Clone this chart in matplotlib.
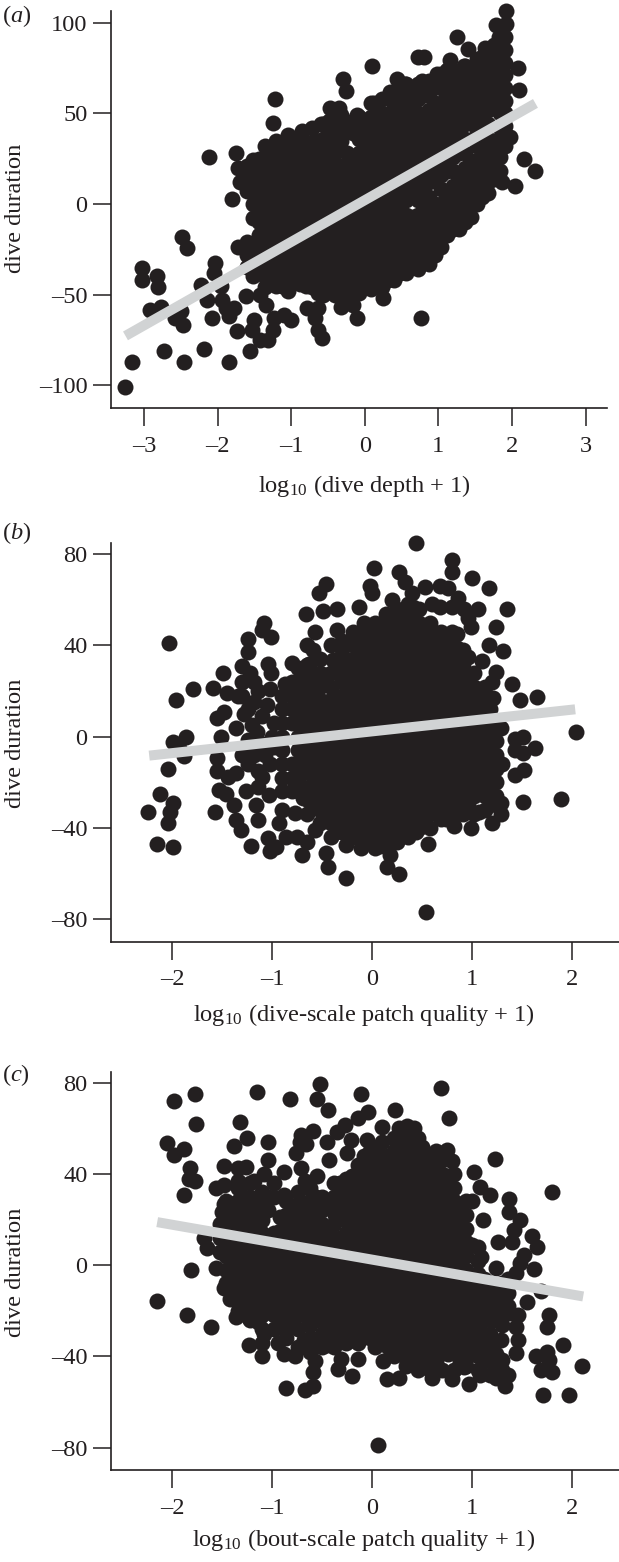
import matplotlib
matplotlib.use("Agg")
import matplotlib.pyplot as plt

plt.rcParams["font.family"] = ["Liberation Serif", "DejaVu Serif"]
plt.rcParams["mathtext.fontset"] = "custom"
plt.rcParams["mathtext.rm"] = "Liberation Serif"
plt.rcParams["mathtext.it"] = "Liberation Serif:italic"

INK = "#231f20"
GREY = "#d1d3d4"
W, H = 619, 1562

# ---- panel a: points read one by one, then the dense core column by column
a_pts = [
    (-3.26, -101), (-3.16, -87), (-2.73, -81), (-2.45, -87), (-2.19, -80), (-1.85, -87), (-1.56, -81),
    (-2.48, -18.4), (-2.42, -24.5), (-3.02, -35.5), (-3.02, -42), (-2.82, -40), (-2.81, -45.6),
    (-2.92, -58.5), (-2.77, -56.6), (-2.58, -63), (-2.47, -66.7), (-2.5, -59),
    (-2.12, 26), (-1.22, 58), (-1.25, 44.5), (0.1, 76), (-0.29, 69), (-0.26, 62.5), (0.76, -63),
    (0.25, -52), (-0.11, -63), (-0.58, -74), (-0.64, -69.5),
    (2.31, 18), (2.17, 25), (2.04, 10), (2.1, 63), (2.08, 75), (1.97, 37), (1.87, 12),
    (1.92, 106.6), (1.92, 99.6), (1.78, 99), (1.83, 92), (1.25, 92), (1.41, 85.5), (1.63, 86),
    (0.72, 81), (0.8, 81), (1.16, 79.5), (0.44, 69),
    (-1.8, 3), (-1.72, -23.5), (-2.03, -32.7), (-2.23, -44.7), (-2.14, -53), (-2.08, -62.7),
    (-1.85, -62), (-1.74, -70), (-1.5, -64), (-1.53, -69.5), (-1.42, -75), (-1.31, -75), (-1.25, -69.5),
    (-1.1, -61), (-1.0, -64), (-1.23, -63), (-1.34, -56), (-1.61, -51), (-1.42, -50), (-1.94, -53),
    (-1.88, -57.5), (-1.77, -57.5), (-0.78, -57.5), (-0.64, -57.5), (-0.67, -63), (-0.32, -56.6),
    (-0.16, -55.7), (-1.75, 28), (-1.72, 20), (-1.7, 12), (-2.05, -38), (-1.95, -45),
    (-0.85, 40), (-0.6, 44), (-0.47, 53), (-0.35, 53), (-0.1, 49), (0.12, 56), (0.35, 62), (0.55, 66),
    (0.78, 68), (0.98, 72), (1.15, 74), (1.35, 76),
]
a_core = [
    (-1.6, [21, 14, 7, -21, -28, -35]),
    (-1.44, [25, 18, 11, 4, -3, -10, -17, -24, -31, -38]),
    (-1.28, [28, 21, 14, 7, 0, -7, -14, -21, -28, -35, -42]),
    (-1.12, [32, 25, 18, 11, 4, -3, -10, -17, -24, -31, -38, -45]),
    (-0.96, [35, 28, 21, 14, 7, 0, -7, -14, -21, -28, -35, -42]),
    (-0.8, [32, 25, 18, 11, 4, -3, -10, -17, -24, -31, -38, -45]),
    (-0.64, [35, 28, 21, 14, 7, 0, -7, -14, -21, -28, -35, -42, -49]),
    (-0.48, [46, 39, 32, 25, 18, 11, 4, -3, -10, -17, -24, -31, -38, -45]),
    (-0.32, [49, 42, 35, 21, 14, 7, 0, -7, -14, -21, -28, -35, -42, -49]),
    (-0.16, [46, 39, 25, 18, 11, 4, -3, -10, -17, -24, -31, -38, -45]),
    (0.0, [42, 35, 28, 21, 14, 7, 0, -7, -14, -21, -28, -35, -42]),
    (0.16, [53, 46, 39, 32, 25, 18, 11, 4, -3, -10, -17, -24, -31, -38, -45]),
    (0.32, [49, 42, 35, 28, 21, 14, 7, 0, -7, -14, -21, -28, -35, -42]),
    (0.48, [60, 53, 46, 39, 32, 25, 18, 11, 4, -3, -10, -17, -24, -31, -38]),
    (0.64, [63, 56, 49, 42, 35, 28, 21, 14, 7, -7, -14, -21, -28, -35]),
    (0.8, [60, 46, 39, 32, 25, 18, 11, 4, -3, -10, -17, -24, -31]),
    (0.96, [67, 56, 49, 42, 35, 28, 21, 14, 0, -7, -14, -21, -28]),
    (1.12, [74, 67, 60, 53, 46, 39, 32, 25, 18, 4, -3, -10, -17]),
    (1.28, [70, 63, 56, 49, 42, 35, 28, 14, 7, 0, -7, -14]),
    (1.44, [74, 67, 60, 53, 46, 21, 14, 7, 0, -7]),
    (1.6, [81, 74, 67, 60, 53, 46, 32, 25, 18, 11, 4]),
    (1.76, [88, 81, 74, 67, 60, 53, 35, 28, 21, 14]),
    (1.9, [92, 85, 78, 71, 64, 57, 50, 43, 32]),
    (-1.52, [24, 16, 8, 0, -8, -24, -32, -40]),
    (-1.36, [32, 24, 16, 8, 0, -8, -16, -24, -32, -40, -46]),
    (-1.2, [35, 27, 19, 11, 3, -5, -13, -21, -29, -37, -45]),
    (-1.04, [38, 30, 22, 14, 6, -2, -10, -18, -26, -34, -42, -48]),
    (-0.88, [36, 28, 20, 12, 4, -4, -12, -20, -28, -36, -44]),
    (-0.72, [42, 34, 26, 18, 10, 2, -6, -14, -22, -30, -38, -46]),
    (-0.56, [44, 36, 28, 20, 12, 4, -4, -12, -20, -28, -36, -44, -50]),
    (-0.4, [52, 44, 36, 28, 20, 12, 4, -4, -12, -20, -28, -36, -44, -50]),
    (-0.24, [44, 28, 20, 12, 4, -4, -12, -20, -28, -36, -44, -50]),
    (-0.08, [48, 36, 28, 20, 12, 4, -4, -12, -20, -28, -36, -44, -49]),
    (0.08, [56, 48, 40, 32, 24, 16, 8, 0, -8, -16, -24, -32, -40, -47]),
    (0.24, [58, 50, 42, 34, 26, 18, 10, 2, -6, -14, -22, -30, -38, -46]),
    (0.4, [62, 54, 46, 38, 30, 22, 14, 6, -2, -10, -18, -26, -34, -42]),
    (0.56, [66, 58, 50, 42, 34, 26, 18, 10, 2, -6, -14, -22, -30, -38]),
    (0.72, [66, 58, 50, 42, 34, 26, 18, 10, 2, -6, -14, -22, -30, -36]),
    (0.88, [68, 60, 52, 44, 36, 28, 20, 12, 4, -4, -12, -20, -28, -33]),
    (1.04, [72, 64, 56, 48, 40, 32, 24, 16, 8, 0, -8, -16, -24]),
    (1.2, [74, 66, 58, 50, 42, 34, 26, 18, 10, 2, -6, -14]),
    (1.36, [76, 68, 60, 52, 44, 36, 28, 20, 12, 4, -4, -10]),
    (1.52, [80, 72, 64, 56, 48, 40, 32, 24, 16, 8, 0]),
    (1.68, [84, 76, 68, 60, 52, 44, 36, 28, 20, 12, 6]),
    (1.84, [90, 82, 74, 66, 58, 50, 42, 34, 26, 18]),
]
a_line_x = [-3.25, 2.32]
a_line_y = [-72.8, 55.5]

# ---- panel b
b_pts = [
    (0.44, 85), (0.54, -77), (2.04, 2), (1.89, -27.5), (-2.03, 41), (-1.79, 21), (-1.96, 16),
    (-2.24, -33), (-2.12, -25), (-2.15, -47), (-1.99, -48.5), (-2.04, -38), (-2.02, -33), (-1.99, -29),
    (-2.04, -14), (-1.99, -2.5), (-1.86, 0), (-1.88, -8.5), (-1.93, -5),
    (-1.57, -33), (-1.59, 21.5), (-1.49, 28), (-1.51, 0), (-1.48, 11), (-1.55, 8), (-1.36, 4), (-1.45, 19), (-1.34, 18),
    (-1.55, -9.5), (-1.55, -15), (-1.44, -17.5), (-1.36, -16), (-1.53, -23.5), (-1.46, -25), (-1.38, -30),
    (-1.36, -36.5), (-1.31, -41), (-1.26, -24), (-1.21, -48), (-1.16, -30), (-1.14, -36.5), (-1.04, -44.5),
    (-1.02, -50), (-0.96, -48.5), (-1.03, -25.6), (-0.93, -38), (-0.9, -32), (-0.86, -44), (-0.75, -44),
    (-0.65, -46), (-0.7, -52), (-0.77, -33.6), (-0.65, -34), (-0.57, -41),
    (-0.46, -51), (-0.44, -57), (-0.26, -62), (0.15, -57), (0.27, -60), (0.18, -52), (-0.11, -49),
    (-0.26, -47.5), (0.03, -49), (0.56, -47), (0.44, -42), (0.82, -39), (0.99, -40), (1.2, -38),
    (1.29, -34), (1.29, -29), (1.51, -28.5), (1.43, -17), (1.52, -14.6), (1.3, -12), (1.43, -6), (1.51, -7),
    (1.63, -5), (1.51, 0), (1.43, -1), (1.29, 4),
    (0.02, 74), (0.27, 72), (0.33, 68), (0.53, 65.5), (-0.02, 66), (0, 63), (-0.46, 67), (-0.53, 63),
    (-0.66, 54), (-0.49, 55), (-0.35, 56), (-0.13, 57), (0.8, 77.5), (0.8, 72), (1, 69.5), (1.17, 65),
    (1.35, 56), (1.24, 48), (1.06, 56), (0.86, 61), (0.76, 65), (0.68, 66), (0.99, 48), (1.17, 40),
    (1.31, 37.5), (1.1, 33), (1.24, 28.5), (1.4, 23), (1.2, 24), (1.21, 17), (1.48, 16), (1.65, 17.5),
    (0.96, 35), (0.6, 58), (0.68, 57), (0.8, 57), (0.92, 56), (0.96, 52), (0.2, 60), (0.4, 63),
    (-1.08, 50), (-1.1, 47), (-1.01, 43.5), (-1.24, 43), (-1.24, 37), (-1.3, 31), (-1.22, 28), (-1.04, 32),
    (-1.01, 28), (-0.8, 32.5), (-0.65, 31.5), (-0.57, 46), (-0.59, 38), (-0.65, 40), (-0.35, 47), (-0.31, 39.5),
    (-0.39, 33.6), (-0.87, 23), (-1.02, 21), (-1.14, 20), (-1.24, 12), (-1.1, 9), (-0.98, 6), (-0.79, 13),
    (-0.75, 23), (-0.59, 25),
    (-1.24, -12), (-1.14, -15), (-1.02, -12), (-1.22, -6), (-1.1, -17.5), (-1.14, -22), (-1.24, -1.5),
    (-1.1, -3), (-0.98, -4.4), (-1.2, 5), (-1.05, 14), (-1.18, 24), (-1.3, 24),
    (-1.28, 10), (-1.15, 2), (-1.3, -8), (-1.18, -8), (-1.0, 0), (-1.07, -8), (-1.18, 15), (-1.3, 18),
]
b_core = [
    (-0.8, [24, 18, 12, 6, -12, -18, -24]),
    (-0.69, [27, 21, 15, 9, 3, -3, -9, -15, -27]),
    (-0.58, [24, 18, 12, 6, 0, -6, -12, -18, -24, -30]),
    (-0.47, [27, 15, 9, 3, -3, -9, -15, -21, -27, -33]),
    (-0.36, [30, 12, 6, 0, -6, -12, -18, -24, -30, -36, -42]),
    (-0.25, [33, 27, 21, 15, 9, 3, -3, -9, -15, -21, -27, -33, -39]),
    (-0.14, [42, 36, 30, 24, 18, 12, 6, 0, -6, -12, -18, -24, -30, -36, -42]),
    (-0.03, [45, 39, 33, 27, 21, 15, 9, 3, -3, -9, -15, -21, -27, -33, -39, -45]),
    (0.08, [48, 42, 36, 30, 24, 18, 12, 6, 0, -6, -12, -18, -24, -30, -36, -42, -48]),
    (0.19, [51, 45, 39, 33, 27, 21, 15, 9, 3, -3, -9, -15, -21, -27, -33, -39, -45]),
    (0.3, [54, 48, 42, 36, 30, 24, 18, 12, 6, 0, -6, -12, -18, -24, -30, -36, -42]),
    (0.41, [57, 51, 45, 39, 33, 27, 21, 15, 9, 3, -3, -9, -15, -21, -27, -33, -39]),
    (0.52, [48, 42, 36, 30, 24, 18, 12, 6, 0, -6, -12, -18, -24, -30, -36]),
    (0.63, [45, 39, 33, 27, 21, 15, 9, 3, -3, -9, -15, -21, -27, -33]),
    (0.74, [42, 36, 30, 24, 18, 12, 6, 0, -6, -12, -18, -24, -30, -36]),
    (0.85, [45, 39, 33, 27, 21, 15, 9, 3, -3, -9, -15, -21, -27, -33]),
    (0.96, [24, 18, 12, 6, 0, -6, -12, -18, -24, -30]),
    (1.07, [21, 15, 9, 3, -3, -9, -15, -21, -33]),
    (1.18, [12, 6, 0, -6, -12, -18, -24, -30]),
    (-0.9, [18, 12, 6, 0, -6, -12, -18, -24]),
    (-0.74, [30, 24, 18, 12, 6, 0, -6, -12, -18, -24]),
    (-0.63, [32, 26, 20, 14, 8, 2, -4, -10, -16, -22, -28]),
    (-0.52, [34, 28, 22, 16, 10, 4, -2, -8, -14, -20, -26, -32, -38]),
    (-0.41, [40, 28, 22, 16, 10, 4, -2, -8, -14, -20, -26, -32, -38, -44]),
    (-0.3, [42, 36, 30, 24, 18, 12, 6, 0, -6, -12, -18, -24, -30, -36, -42]),
    (-0.19, [46, 40, 34, 28, 22, 16, 10, 4, -2, -8, -14, -20, -26, -32, -38, -44]),
    (-0.08, [50, 44, 38, 32, 26, 20, 14, 8, 2, -4, -10, -16, -22, -28, -34, -40, -46]),
    (0.03, [50, 44, 38, 32, 26, 20, 14, 8, 2, -4, -10, -16, -22, -28, -34, -40, -46]),
    (0.14, [54, 48, 42, 36, 30, 24, 18, 12, 6, 0, -6, -12, -18, -24, -30, -36, -42, -48]),
    (0.25, [56, 50, 44, 38, 32, 26, 20, 14, 8, 2, -4, -10, -16, -22, -28, -34, -40, -46]),
    (0.36, [58, 52, 46, 40, 34, 28, 22, 16, 10, 4, -2, -8, -14, -20, -26, -32, -38, -44]),
    (0.47, [56, 50, 44, 38, 32, 26, 20, 14, 8, 2, -4, -10, -16, -22, -28, -34, -40]),
    (0.58, [50, 44, 38, 32, 26, 20, 14, 8, 2, -4, -10, -16, -22, -28, -34, -40]),
    (0.69, [46, 40, 34, 28, 22, 16, 10, 4, -2, -8, -14, -20, -26, -32, -36]),
    (0.8, [46, 40, 34, 28, 22, 16, 10, 4, -2, -8, -14, -20, -26, -32, -36]),
    (0.91, [38, 32, 26, 20, 14, 8, 2, -4, -10, -16, -22, -28, -34]),
    (1.02, [28, 22, 16, 10, 4, -2, -8, -14, -20, -26, -34]),
    (1.13, [22, 16, 10, 4, -2, -8, -14, -20, -26, -32]),
    (1.24, [4, -2, -8, -14, -20, -26]),
]
b_line_x = [-2.23, 2.03]
b_line_y = [-8.3, 12]

# ---- panel c
c_pts = [
    (0.06, -79), (-2.15, -15.5), (-1.85, -22), (-1.61, -27), (-1.81, -2.3), (1.71, -57), (1.97, -57),
    (2.1, -44), (1.91, -35), (1.8, 32), (1.23, 46.6), (0.69, 77.6), (0.77, 64.5), (0.23, 68), (-0.11, 75),
    (-0.04, 67), (-0.14, 64.5), (-0.52, 79.5), (-0.55, 73), (-0.44, 68), (-0.82, 73), (-1.15, 76),
    (-1.77, 75), (-1.98, 72), (-1.76, 62), (-1.32, 63), (-1.25, 56), (-1.38, 52.5), (-2.05, 53.5),
    (-1.88, 51), (-1.98, 48.5), (-1.82, 42.5), (-1.83, 38), (-1.77, 37), (-1.88, 31), (-1.04, 54),
    (1.02, 41), (1.08, 34.5), (1.18, 31), (1, 28), (1.11, 20), (1.37, 29), (1.37, 23.5), (1.48, 20),
    (1.42, 15.5), (1.4, 10), (1.26, 10), (1.6, 13), (1.65, 8), (1.52, 4.5), (1.09, 3.5), (0.93, 5),
    (1.24, -1.3), (1.48, 1), (1.62, -1.6), (1.44, -3.5), (1.55, -16), (1.69, -11.5), (1.77, -22), (1.75, -27),
    (1.64, -40), (1.75, -38), (1.77, -41.5), (1.8, -47), (1.69, -46), (1.33, -53), (0.97, -52), (0.8, -50),
    (0.6, -49.6), (1.24, -49.6), (1.36, -48), (1.44, -38.6), (1.46, -33), (1.44, -27), (1.46, -22), (1.38, -21),
    (1.29, -33), (1.2, -24), (1.08, -48), (0.92, -44.5), (1.16, -40), (1.3, -41.5),
    (-0.86, -54), (-0.67, -54.7), (-0.59, -53), (-0.59, -47), (-0.57, -42), (-0.34, -45.6), (-0.2, -48.4),
    (-0.14, -41), (-0.31, -41), (0.15, -50), (0.27, -49.6), (0.11, -42), (0.03, -35.7), (0.46, -45),
    (0.35, -43.7), (-0.77, -40), (-0.88, -39), (-1.1, -40), (-1.23, -35), (-1.08, -30), (-0.94, -34),
    (-0.45, -35), (-0.59, -34), (-1.36, -22.5), (-1.23, -23), (-1.42, -15), (-1.48, -10), (-1.56, -1.3),
    (-1.65, 7.5), (-1.68, 12), (-1.34, -15), (-1.14, -18), (-1.14, -25), (-0.83, -26), (-0.63, -25.4),
    (-0.27, -30), (-0.15, -30),
    (-1.48, 43.6), (-1.34, 42.5), (-1.26, 43), (-1.04, 46), (-1.08, 40), (-0.88, 41), (-0.76, 49), (-0.72, 54),
    (-0.66, 53), (-0.59, 59), (-0.71, 57), (-0.71, 42.5), (-0.55, 39), (-0.43, 46), (-0.45, 54), (-0.35, 58.6),
    (-0.27, 61.5), (-0.21, 55), (-0.25, 49), (-0.05, 55), (0.1, 60.5), (0.27, 60), (0.35, 61), (0.42, 60),
    (0.5, 52), (0.64, 50), (0.75, 50.6), (0.8, 45.5), (-1.56, 34), (-1.48, 35), (-1.34, 37), (-1.18, 37),
    (-0.98, 36), (-0.88, 31), (-1.48, 27), (-1.5, 23.5), (-0.74, 27), (-0.67, 37), (-0.39, 25.7), (-0.37, 22),
]
c_core = [
    (-1.52, [18, 12, 6]),
    (-1.4, [27, 21, 15, 9, 3, -3, -9]),
    (-1.28, [30, 24, 18, 12, 6, 0, -6, -12]),
    (-1.16, [27, 21, 15, 9, 3, -3, -9, -15]),
    (-1.04, [30, 24, 12, 6, 0, -6, -12, -18]),
    (-0.92, [21, 15, 9, 3, -3, -9, -15, -21, -27]),
    (-0.8, [24, 18, 12, 6, 0, -6, -12, -18]),
    (-0.68, [27, 21, 15, 9, 3, -3, -9, -15, -21, -33]),
    (-0.56, [30, 24, 18, 12, 6, 0, -6, -12, -18, -24]),
    (-0.44, [15, 9, 3, -3, -9, -15, -21, -27]),
    (-0.32, [36, 30, 24, 12, 6, 0, -6, -12, -18, -24, -30]),
    (-0.2, [39, 33, 27, 21, 15, 9, 3, -3, -9, -15, -21, -27, -33]),
    (-0.08, [48, 42, 36, 30, 24, 18, 12, 6, 0, -6, -12, -18, -24, -30]),
    (0.04, [51, 45, 39, 33, 27, 21, 15, 9, 3, -3, -9, -15, -21, -27]),
    (0.16, [48, 42, 36, 30, 24, 18, 12, 6, 0, -6, -12, -18, -24, -30, -36]),
    (0.28, [57, 51, 45, 39, 33, 27, 21, 15, 9, 3, -3, -9, -15, -21, -27, -33, -39]),
    (0.4, [54, 48, 42, 36, 30, 24, 18, 12, 6, 0, -6, -12, -18, -24, -30, -36, -42]),
    (0.52, [45, 39, 33, 27, 21, 15, 9, 3, -3, -9, -15, -21, -27, -33, -39]),
    (0.64, [42, 36, 30, 24, 18, 12, 6, 0, -6, -12, -18, -24, -30, -36, -42]),
    (0.76, [39, 33, 27, 21, 15, 9, 3, -3, -9, -15, -21, -27, -33, -39]),
    (0.88, [24, 18, 12, 6, 0, -6, -12, -18, -24, -30, -36, -42]),
    (1.0, [9, -9, -15, -21, -27, -33, -39]),
    (1.12, [-6, -12, -18, -24, -30, -36, -42]),
    (1.24, [-9, -15, -21, -39, -45]),
    (1.36, [-6, -12, -18]),
    (-1.46, [28, 22, 16, 10, 4, -2, -8]),
    (-1.34, [34, 28, 22, 16, 10, 4, -2, -8, -14, -20]),
    (-1.22, [36, 30, 24, 18, 12, 6, 0, -6, -12, -18, -24]),
    (-1.1, [32, 26, 20, 14, 8, 2, -4, -10, -16, -22, -28, -34]),
    (-0.98, [30, 14, 8, 2, -4, -10, -16, -22, -28]),
    (-0.86, [28, 22, 16, 10, 4, -2, -8, -14, -20, -26, -32]),
    (-0.74, [32, 26, 20, 14, 8, 2, -4, -10, -16, -22, -28, -36]),
    (-0.62, [34, 28, 22, 16, 10, 4, -2, -8, -14, -20, -26, -32, -38]),
    (-0.5, [30, 24, 18, 12, 6, 0, -6, -12, -18, -24, -30, -36]),
    (-0.38, [36, 30, 18, 12, 6, 0, -6, -12, -18, -24, -30, -36]),
    (-0.26, [38, 32, 26, 20, 14, 8, 2, -4, -10, -16, -22, -28, -34]),
    (-0.14, [44, 38, 32, 26, 20, 14, 8, 2, -4, -10, -16, -22, -28, -34]),
    (-0.02, [50, 44, 38, 32, 26, 20, 14, 8, 2, -4, -10, -16, -22, -28, -32]),
    (0.1, [54, 48, 42, 36, 30, 24, 18, 12, 6, 0, -6, -12, -18, -24, -30, -34]),
    (0.22, [56, 50, 44, 38, 32, 26, 20, 14, 8, 2, -4, -10, -16, -22, -28, -34, -40]),
    (0.34, [58, 52, 46, 40, 34, 28, 22, 16, 10, 4, -2, -8, -14, -20, -26, -32, -38, -44]),
    (0.46, [56, 50, 44, 38, 32, 26, 20, 14, 8, 2, -4, -10, -16, -22, -28, -34, -40, -46]),
    (0.58, [48, 42, 36, 30, 24, 18, 12, 6, 0, -6, -12, -18, -24, -30, -36, -42, -46]),
    (0.7, [46, 40, 34, 28, 22, 16, 10, 4, -2, -8, -14, -20, -26, -32, -38, -46]),
    (0.82, [40, 34, 28, 22, 16, 10, 4, -2, -8, -14, -20, -26, -32, -38, -46]),
    (0.94, [28, 22, 16, 10, 4, -2, -8, -14, -20, -26, -32, -38, -44]),
    (1.06, [8, 2, -4, -10, -16, -22, -28, -34, -40, -46]),
    (1.18, [-8, -14, -20, -30, -36, -42, -48]),
    (1.3, [-8, -14, -20, -26, -46]),
]
c_line_x = [-2.15, 2.11]
c_line_y = [18.9, -13.7]

# ---- axis ticks and labels
a_xticks = [-3, -2, -1, 0, 1, 2, 3]
a_xlabels = ["–3", "–2", "–1", "0", "1", "2", "3"]
a_yticks = [-100, -50, 0, 50, 100]
a_ylabels = ["–100", "–50", "0", "50", "100"]
bc_xticks = [-2, -1, 0, 1, 2]
bc_xlabels = ["–2", "–1", "0", "1", "2"]
bc_yticks = [-80, -40, 0, 40, 80]
bc_ylabels = ["–80", "–40", "0", "40", "80"]

FS = 17.6


def flatten(pts, core):
    xs = [p[0] for p in pts]
    ys = [p[1] for p in pts]
    for cx, col in core:
        for cy in col:
            xs.append(cx)
            ys.append(cy)
    return xs, ys


def panel(fig, box, xlim, ylim, pts, core, lx, ly, xticks, xlabels, yticks, ylabels):
    left, top, right, bottom = box
    ax = fig.add_axes([left / W, 1 - bottom / H, (right - left) / W, (bottom - top) / H])
    xs, ys = flatten(pts, core)
    # marker about 16 px across
    ax.scatter(xs, ys, s=(16 * 0.72) ** 2, color=INK, linewidths=0, clip_on=False, zorder=3)
    ax.plot(lx, ly, color=GREY, lw=7.2, solid_capstyle="butt", clip_on=False, zorder=4)
    ax.set_xlim(xlim)
    ax.set_ylim(ylim)
    ax.set_xticks(xticks)
    ax.set_xticklabels(xlabels)
    ax.set_yticks(yticks)
    ax.set_yticklabels(ylabels)
    ax.tick_params(axis="both", length=13, width=1.1, color=INK, labelcolor=INK, labelsize=FS)
    ax.tick_params(axis="x", pad=7)
    ax.tick_params(axis="y", pad=4)
    ax.spines["top"].set_visible(False)
    ax.spines["right"].set_visible(False)
    ax.spines["left"].set_linewidth(1.2)
    ax.spines["bottom"].set_linewidth(1.2)
    ax.spines["left"].set_color(INK)
    ax.spines["bottom"].set_color(INK)
    return ax


def put(fig, x, y, s, **kw):
    fig.text(x / W, 1 - y / H, s, color=INK, fontsize=kw.pop("fontsize", FS), **kw)


fig = plt.figure(figsize=(W / 100, H / 100), dpi=100)

panel(fig, (111, 11, 607, 408), (-3.447, 3.292), (-112.6, 106.5), a_pts, a_core, a_line_x, a_line_y,
      a_xticks, a_xlabels, a_yticks, a_ylabels)
panel(fig, (111, 543.3, 619, 941.7), (-2.612, 2.468), (-89.9, 84.8), b_pts, b_core, b_line_x, b_line_y,
      bc_xticks, bc_xlabels, bc_yticks, bc_ylabels)
panel(fig, (111, 1072.3, 619, 1470), (-2.612, 2.468), (-89.8, 84.6), c_pts, c_core, c_line_x, c_line_y,
      bc_xticks, bc_xlabels, bc_yticks, bc_ylabels)

put(fig, 2, 16, r"($\mathit{a}$)", ha="left", va="center")
put(fig, 2, 533, r"($\mathit{b}$)", ha="left", va="center")
put(fig, 2, 1075, r"($\mathit{c}$)", ha="left", va="center")

put(fig, 16, 208, "dive duration", rotation=90, ha="center", va="center")
put(fig, 16, 743, "dive duration", rotation=90, ha="center", va="center")
put(fig, 16, 1272, "dive duration", rotation=90, ha="center", va="center")

put(fig, 364, 486, r"log$_{10}$ (dive depth + 1)", ha="center", va="center")
put(fig, 364, 1015, r"log$_{10}$ (dive-scale patch quality + 1)", ha="center", va="center")
put(fig, 364, 1540, r"log$_{10}$ (bout-scale patch quality + 1)", ha="center", va="center")

fig.savefig("out.png", dpi=100)
